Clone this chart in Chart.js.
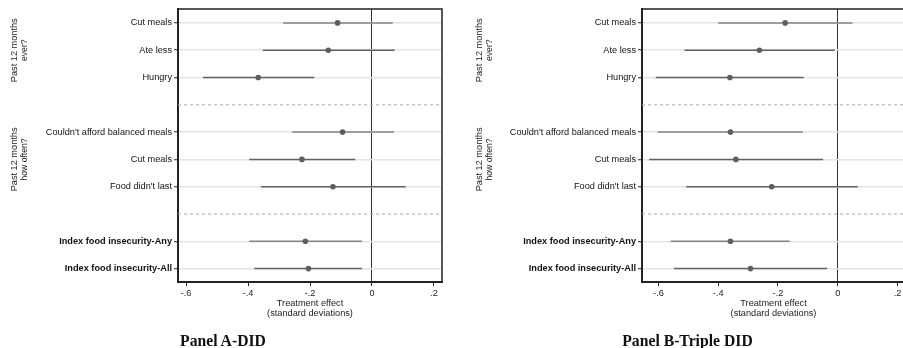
<!DOCTYPE html>
<html>
<head>
<meta charset="utf-8">
<script src="https://cdn.jsdelivr.net/npm/chart.js@4.4.1/dist/chart.umd.min.js"></script>
<style>
  html, body { margin: 0; padding: 0; background: #fff; overflow: hidden; }
  body { width: 903px; height: 348px; position: relative; }
  .panel { position: absolute; top: 0; height: 348px; }
  .ptitle {
    position: absolute; top: 333px; line-height: 16px; text-align: center;
    font-family: "Liberation Serif", "Times New Roman", serif; font-weight: bold;
    font-size: 15.7px; color: #111;
  }
</style>
</head>
<body>
<div class="panel" style="left:0;width:450px"><canvas id="chart-did"></canvas></div>
<div class="panel" style="left:450px;width:458px"><canvas id="chart-triple"></canvas></div>
<div class="ptitle" style="left:0;width:446px">Panel A-DID</div>
<div class="ptitle" style="left:450px;width:475px">Panel B-Triple DID</div>
<script>
// rows of the coefficient plot (top to bottom), with a gap between groups
const rowLabels = ['Cut meals', 'Ate less', 'Hungry',
  "Couldn't afford balanced meals", 'Cut meals', "Food didn't last",
  'Index food insecurity-Any', 'Index food insecurity-All']
const rowPos = [0, 1, 2, 4, 5, 6, 8, 9]
const sepPos = [3, 7]
const groupAt = [1, 5]
const groupLines = [['Past 12 months', 'ever?'], ['Past 12 months', 'how often?']]

// Panel A - DID
const didEst = [-0.111, -0.141, -0.367, -0.095, -0.226, -0.126, -0.215, -0.205]
const didLo = [-0.287, -0.352, -0.545, -0.258, -0.396, -0.358, -0.396, -0.380]
const didHi = [0.067, 0.073, -0.186, 0.071, -0.054, 0.109, -0.032, -0.032]

// Panel B - Triple DID
const tdEst = [-0.176, -0.262, -0.361, -0.359, -0.341, -0.221, -0.359, -0.292]
const tdLo = [-0.400, -0.513, -0.609, -0.603, -0.631, -0.507, -0.559, -0.548]
const tdHi = [0.049, -0.010, -0.114, -0.117, -0.049, 0.067, -0.161, -0.036]

const xTicks = [-0.6, -0.4, -0.2, 0, 0.2]
const xTitle = ['Treatment effect', '(standard deviations)']

const FONT = '"Liberation Sans", Arial, Helvetica, sans-serif'
Chart.defaults.font.family = FONT
Chart.defaults.color = '#222'

function fmtTick(v) {
  if (Math.abs(v) < 1e-9) return '0'
  return v.toFixed(1).replace('0.', '.')
}

// frame around plot area + rotated group labels on the far left
const framePlugin = {
  id: 'frame',
  afterDraw(chart, args, opts) {
    const { ctx, chartArea: a, scales } = chart
    ctx.save()
    ctx.strokeStyle = '#222'
    ctx.lineWidth = 1.5
    ctx.beginPath()
    ctx.moveTo(a.left, a.top)
    ctx.lineTo(a.right, a.top)
    ctx.lineTo(a.right, a.bottom)
    ctx.stroke()
    ctx.fillStyle = '#222'
    ctx.textAlign = 'center'
    ctx.textBaseline = 'middle'
    groupAt.forEach((g, gi) => {
      const y = scales.y.getPixelForValue(g)
      groupLines[gi].forEach((t, li) => {
        ctx.save()
        ctx.translate(opts.groupX + li * 11, y)
        ctx.rotate(-Math.PI / 2)
        ctx.font = (li === 0 ? '9.2px ' : '8.6px ') + FONT
        ctx.fillText(t, 0, 0)
        ctx.restore()
      })
    })
    ctx.restore()
  }
}

function makeChart(id, est, lo, hi, xMin, xMax, yWidth, padRight, groupX) {
  const datasets = []
  datasets.push({
    label: 'estimate',
    data: rowPos.map((p, i) => ({ x: est[i], y: p })),
    pointRadius: 2.8,
    pointHoverRadius: 2.8,
    pointBackgroundColor: '#5e5e5e',
    pointBorderWidth: 0,
  })
  rowPos.forEach((p, i) => {
    const first = i === 0 || p - rowPos[i - 1] > 1
    datasets.push({
      label: 'ci' + i,
      showLine: true,
      data: [{ x: lo[i], y: p }, { x: hi[i], y: p }],
      borderColor: first ? '#858585' : '#626262',
      borderWidth: 1.5,
      pointRadius: 0,
    })
  })
  sepPos.forEach((p) => {
    datasets.push({
      label: 'sep',
      showLine: true,
      data: [{ x: xMin, y: p }, { x: xMax, y: p }],
      borderColor: '#aaa',
      borderWidth: 1,
      borderDash: [3, 3],
      pointRadius: 0,
    })
  })

  return new Chart(document.getElementById(id), {
    type: 'scatter',
    data: { datasets },
    options: {
      responsive: true,
      maintainAspectRatio: false,
      animation: false,
      layout: { padding: { top: 9, right: padRight, bottom: 30, left: 0 } },
      plugins: {
        legend: { display: false },
        tooltip: { enabled: false },
        frame: { groupX },
      },
      scales: {
        x: {
          type: 'linear',
          min: xMin,
          max: xMax,
          afterBuildTicks: (s) => { s.ticks = xTicks.map((v) => ({ value: v })) },
          afterFit: (s) => { s.height = 36; s.paddingLeft = 0; s.paddingRight = 0 },
          ticks: { callback: fmtTick, font: { size: 9.2 }, padding: 2, maxRotation: 0, color: '#222' },
          grid: {
            color: (ctx) => (ctx.tick && ctx.tick.value === 0 ? '#333' : 'rgba(0,0,0,0)'),
            lineWidth: 1,
            tickColor: '#222',
            tickLength: 4,
            tickWidth: 1,
          },
          border: { color: '#222', width: 2 },
          title: {
            display: true,
            text: xTitle,
            font: { size: 9.2, lineHeight: 1.05 },
            padding: { top: 1, bottom: 0 },
            color: '#222',
          },
        },
        y: {
          type: 'linear',
          reverse: true,
          min: -0.51,
          max: 9.49,
          afterBuildTicks: (s) => { s.ticks = rowPos.map((v) => ({ value: v })) },
          afterFit: (s) => { s.width = yWidth; s.paddingTop = 0; s.paddingBottom = 0 },
          ticks: {
            autoSkip: false,
            padding: 2,
            color: '#111',
            callback: (v) => rowLabels[rowPos.indexOf(v)],
            font: (ctx) => {
              const lab = ctx.tick ? rowLabels[rowPos.indexOf(ctx.tick.value)] : ''
              return { size: 9.2, weight: lab && lab.startsWith('Index') ? 'bold' : 'normal' }
            },
          },
          grid: {
            color: '#e4e4e4',
            lineWidth: 1.5,
            tickColor: '#222',
            tickLength: 4,
            tickWidth: 1,
          },
          border: { color: '#222', width: 2 },
        },
      },
    },
    plugins: [framePlugin],
  })
}

makeChart('chart-did', didEst, didLo, didHi, -0.626, 0.226, 178, 8, 14)
makeChart('chart-triple', tdEst, tdLo, tdHi, -0.655, 0.225, 192, 3, 29)
</script>
</body>
</html>
